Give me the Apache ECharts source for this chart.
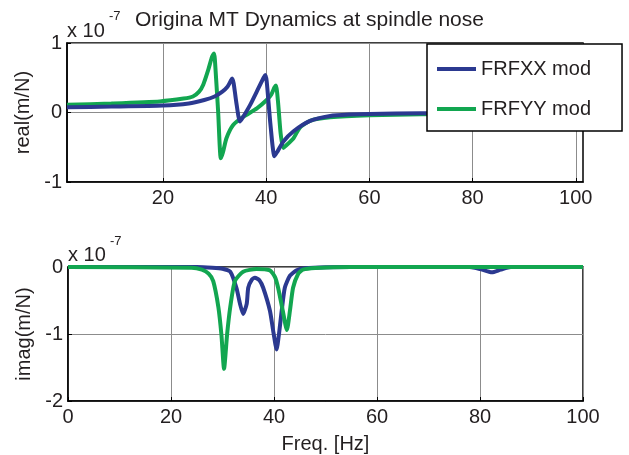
<!DOCTYPE html>
<html>
<head>
<meta charset="utf-8">
<script src="https://cdn.jsdelivr.net/npm/echarts@6/dist/echarts.min.js"></script>
<style>
  html, body { margin: 0; padding: 0; background: #fff; }
  #main { width: 629px; height: 455px; }
</style>
</head>
<body>
<div id="main"></div>
<script>
// values in units of 1e-7 m/N, [freq Hz, value]
var realXX = [[1.4,0.075],[10,0.085],[20,0.1],[25,0.13],[28,0.18],[30,0.23],[31.5,0.3],[32.5,0.37],[33.1,0.45],[33.4,0.49],[33.7,0.42],[34.2,0.15],[34.9,-0.13],[35.4,-0.08],[36.9,0.11],[38.5,0.35],[39.5,0.5],[39.8,0.54],[40.1,0.45],[40.8,-0.15],[41.6,-0.63],[42.2,-0.56],[43.3,-0.42],[45.3,-0.27],[48.5,-0.12],[52.4,-0.05],[56,-0.03],[60,-0.02],[70,-0.012],[80,-0.01],[82,-0.004],[83,-0.016],[90,-0.01],[101.4,-0.005]];
var realYY = [[1.4,0.11],[10,0.13],[19.4,0.16],[24,0.2],[25.8,0.23],[27,0.3],[27.8,0.4],[28.8,0.62],[29.5,0.8],[29.9,0.85],[30.2,0.6],[30.7,0.0],[31.2,-0.66],[31.6,-0.58],[32.3,-0.37],[33.6,-0.18],[35.6,-0.06],[38.2,0.06],[40.1,0.18],[41,0.26],[41.6,0.36],[41.9,0.39],[42.3,0.15],[42.8,-0.3],[43.3,-0.51],[43.8,-0.48],[45.3,-0.37],[46.5,-0.22],[48.5,-0.12],[52.4,-0.07],[60,-0.04],[70,-0.025],[80,-0.02],[101.4,-0.01]];
var imagXX = [[0,0],[25,0],[28,-0.01],[30,-0.025],[31.5,-0.07],[32.7,-0.31],[33.4,-0.55],[34,-0.7],[34.7,-0.55],[35,-0.31],[35.7,-0.19],[36.3,-0.16],[37.2,-0.2],[37.9,-0.31],[39.2,-0.65],[39.9,-0.98],[40.5,-1.23],[41,-0.98],[41.5,-0.65],[42.1,-0.31],[43.1,-0.13],[44.4,-0.05],[46,-0.02],[50,-0.005],[60,0],[78,0],[80,-0.03],[82.3,-0.08],[84,-0.04],[86,0],[100,0]];
var imagYY = [[0,0],[24,-0.01],[26,-0.04],[27.3,-0.1],[28.2,-0.21],[29.2,-0.6],[29.8,-1.02],[30.3,-1.52],[30.9,-1.0],[31.5,-0.6],[32.4,-0.21],[34,-0.07],[36.6,-0.03],[39.2,-0.05],[40.2,-0.15],[40.8,-0.31],[41.7,-0.65],[42.5,-0.94],[43.1,-0.65],[43.7,-0.31],[44.7,-0.1],[45.6,-0.04],[48,-0.015],[55,0],[100,0]];
var topXTicks = [20, 40, 60, 80, 100];
var seriesNames = ['FRFXX mod', 'FRFYY mod'];
var colors = ['#2b3990', '#12a650'];

var font = "'Liberation Sans', Arial, sans-serif";
var textColor = '#231f20';

function xAxisBase(gridIndex) {
  return {
    type: 'value',
    gridIndex: gridIndex,
    axisLine: { onZero: false, lineStyle: { color: '#000', width: 1.5 } },
    axisTick: { inside: true, length: 4, lineStyle: { color: '#000' } },
    axisLabel: { color: textColor, fontSize: 20, fontFamily: font, margin: 6 },
    splitLine: { show: true, lineStyle: { color: '#8c8c8c', width: 1 } }
  };
}

var chart = echarts.init(document.getElementById('main'), null, { renderer: 'canvas' });
chart.setOption({
  animation: false,
  color: colors,
  textStyle: { fontFamily: font },
  grid: [
    { left: 67, top: 43, width: 516, height: 139, show: true, borderColor: '#000', borderWidth: 1.5, backgroundColor: 'transparent' },
    { left: 68, top: 267, width: 515, height: 138, show: true, borderColor: '#000', borderWidth: 1.5, backgroundColor: 'transparent' }
  ],
  xAxis: [
    Object.assign(xAxisBase(0), {
      min: 1.4, max: 101.4,
      axisTick: { inside: true, length: 4, customValues: topXTicks, lineStyle: { color: '#000' } },
      axisLabel: { color: textColor, fontSize: 20, fontFamily: font, margin: 6, customValues: topXTicks }
    }),
    Object.assign(xAxisBase(1), {
      min: 0, max: 100, interval: 20,
      name: 'Freq. [Hz]', nameLocation: 'middle', nameGap: 33,
      nameTextStyle: { color: textColor, fontSize: 20, fontFamily: font }
    })
  ],
  yAxis: [
    {
      type: 'value', gridIndex: 0, min: -1, max: 1, interval: 1,
      name: 'real(m/N)', nameLocation: 'middle', nameGap: 30,
      nameTextStyle: { color: textColor, fontSize: 20, fontFamily: font },
      axisLine: { lineStyle: { color: '#000', width: 1.5 } },
      axisTick: { inside: true, length: 4, lineStyle: { color: '#000' } },
      axisLabel: { color: textColor, fontSize: 20, fontFamily: font, margin: 5 },
      splitLine: { show: true, lineStyle: { color: '#8c8c8c', width: 1 } }
    },
    {
      type: 'value', gridIndex: 1, min: -2, max: 0, interval: 1,
      name: 'imag(m/N)', nameLocation: 'middle', nameGap: 33,
      nameTextStyle: { color: textColor, fontSize: 20, fontFamily: font },
      axisLine: { lineStyle: { color: '#000', width: 1.5 } },
      axisTick: { inside: true, length: 4, lineStyle: { color: '#000' } },
      axisLabel: { color: textColor, fontSize: 20, fontFamily: font, margin: 5 },
      splitLine: { show: true, lineStyle: { color: '#8c8c8c', width: 1 } }
    }
  ],
  legend: {
    data: seriesNames,
    orient: 'vertical',
    left: 427, top: 44,
    padding: [15, 31, 12, 8],
    itemGap: 20,
    itemWidth: 39, itemHeight: 14,
    itemStyle: { opacity: 0 },
    lineStyle: { width: 4 },
    backgroundColor: '#fff',
    borderColor: '#000', borderWidth: 1.5, borderRadius: 0,
    textStyle: { color: textColor, fontSize: 20, fontFamily: font }
  },
  graphic: [
    { type: 'text', left: 135, top: 10, style: { text: 'Origina MT Dynamics at spindle nose', fill: textColor, font: '21px ' + font } },
    { type: 'text', left: 67, top: 21, style: { text: 'x 10', fill: textColor, font: '20px ' + font } },
    { type: 'text', left: 109, top: 10, style: { text: '-7', fill: textColor, font: '13px ' + font } },
    { type: 'text', left: 68, top: 245, style: { text: 'x 10', fill: textColor, font: '20px ' + font } },
    { type: 'text', left: 110, top: 235, style: { text: '-7', fill: textColor, font: '13px ' + font } }
  ],
  series: [
    { name: seriesNames[1], type: 'line', xAxisIndex: 0, yAxisIndex: 0, data: realYY, showSymbol: false, symbol: 'none', smooth: 0.2, lineStyle: { width: 4, color: colors[1] }, itemStyle: { color: colors[1] } },
    { name: seriesNames[0], type: 'line', xAxisIndex: 0, yAxisIndex: 0, data: realXX, showSymbol: false, symbol: 'none', smooth: 0.2, lineStyle: { width: 4, color: colors[0] }, itemStyle: { color: colors[0] } },
    { name: seriesNames[0], type: 'line', xAxisIndex: 1, yAxisIndex: 1, data: imagXX, showSymbol: false, symbol: 'none', smooth: 0.2, lineStyle: { width: 4, color: colors[0] }, itemStyle: { color: colors[0] } },
    { name: seriesNames[1], type: 'line', xAxisIndex: 1, yAxisIndex: 1, data: imagYY, showSymbol: false, symbol: 'none', smooth: 0.2, lineStyle: { width: 4, color: colors[1] }, itemStyle: { color: colors[1] } }
  ]
});
</script>
</body>
</html>
